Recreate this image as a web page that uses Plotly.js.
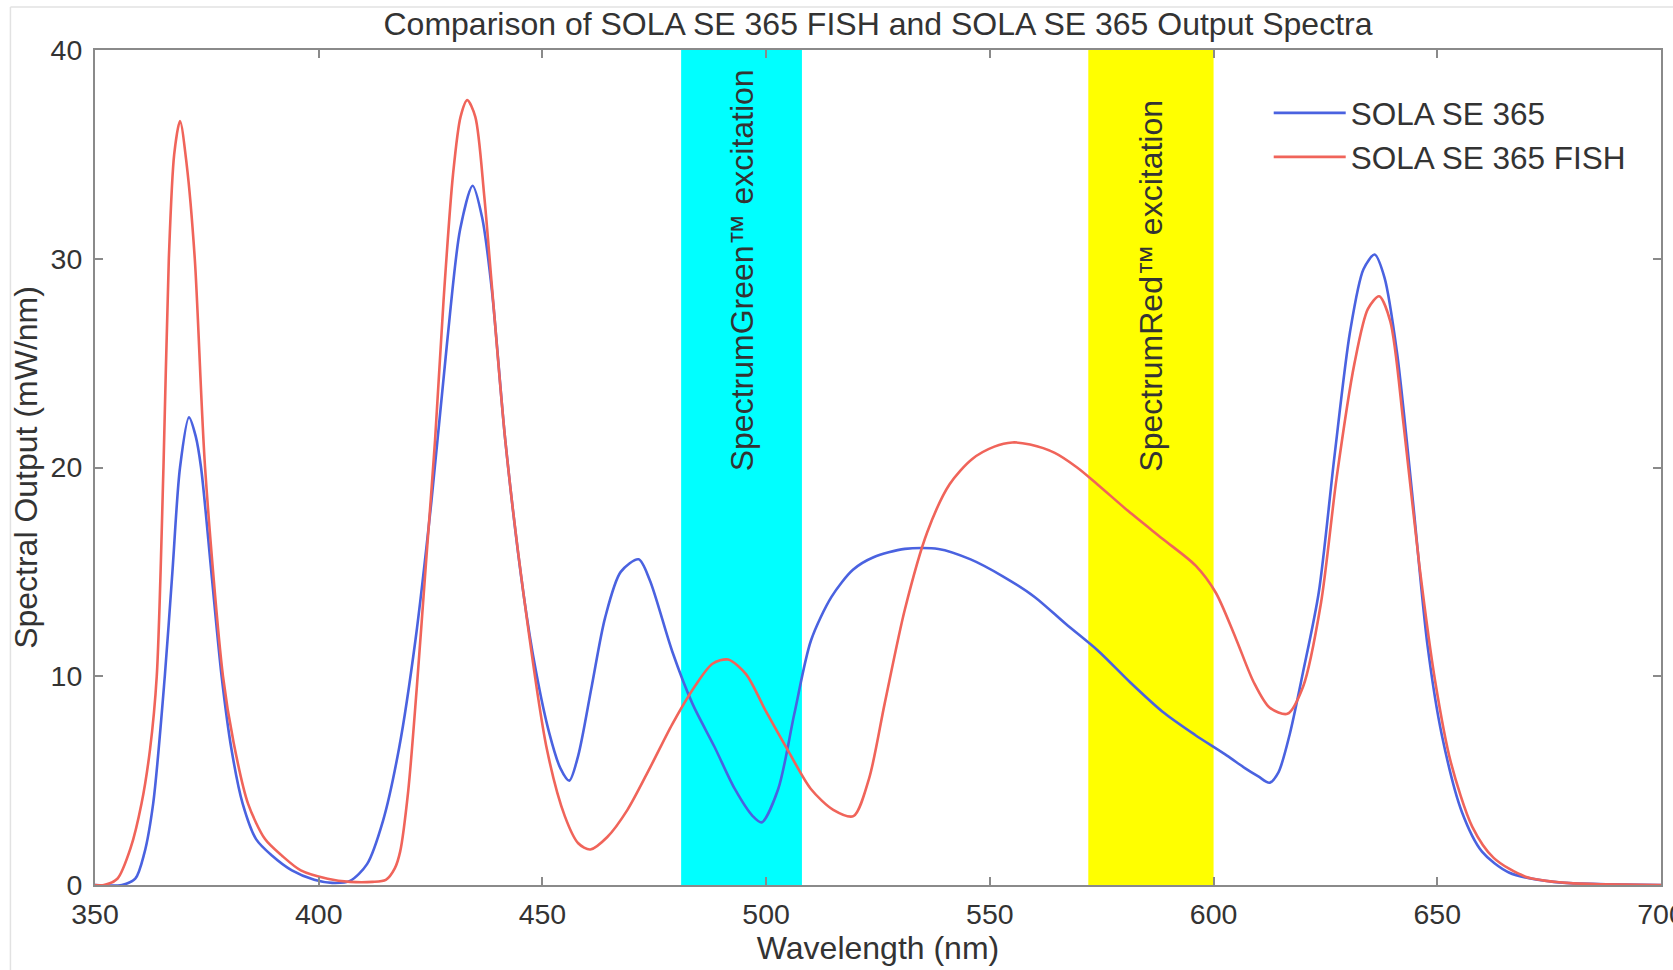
<!DOCTYPE html>
<html>
<head>
<meta charset="utf-8">
<script src="https://cdn.plot.ly/plotly-3.0.1.min.js"></script>
<style>html,body{margin:0;padding:0;background:#fff;}#chart{width:1673px;height:970px;}</style>
</head>
<body>
<div id="chart"></div>
<script>
// SOLA SE 365 (blue)
const seWavelength = [350,356,359,361,363,365.6,367.3,369,371,372.5,373.7,376,378.3,380.5,383,386,389.6,394,399,403,407,410.8,414.4,418,421.6,425.2,428.7,431.6,434.4,436.5,438.7,441.7,445.8,448.5,451.5,454,456,458,461,464,467.5,471.5,474,479,483.5,488.5,493,497,499,502.7,506.3,510,514.6,519.4,524,531,538.5,545.7,552.8,560,567,574.3,581.4,588.6,595.8,603,607,610,612.5,614.5,617,620,623.5,627,630.5,633.5,636,638.2,641,644.5,647.8,651,655.5,660,666,676,700];
const seOutput = [0,0,0.3,1.5,3.9,10,15,20,22.4,21.5,20,15,10,6.5,3.9,2.2,1.4,0.7,0.25,0.1,0.2,1.0,3.1,6.6,11.7,18.4,26,31.4,33.5,32,28.5,21.3,13.9,10.3,7.3,5.6,5.0,6.2,9.5,12.8,15,15.6,14.6,11.2,8.7,6.6,4.6,3.3,3.0,4.6,8.2,11.7,13.8,15.1,15.7,16.1,16.1,15.6,14.8,13.8,12.5,11.2,9.7,8.3,7.2,6.2,5.6,5.2,4.9,5.4,7.2,10.2,14,20.5,26.5,29.5,30.2,29.1,25.5,18.5,11.5,7.2,3.5,1.6,0.6,0.15,0];

// SOLA SE 365 FISH (red)
const fishWavelength = [350,352,355,358,360.4,362.3,363.8,365.3,366.5,367.7,369,370.5,372.3,374.6,378.6,381,384.2,388,391.8,396,402,407,412,415,417,418.2,420,421.9,424,426,427.9,430,431.7,433.2,435,437,438.7,441.7,445.8,451,455,458,460.7,464.5,469,474,479,484,488,491.5,495.5,500,505,510,515,519.5,523,526.5,531,536,541,546,551,555,559,564.5,569.5,574,581,588.5,596,600.5,605,609,612.5,616.5,620,624,627.5,631.5,634.5,637,639.5,642.5,646,649.5,653,657.8,662.6,669.7,679,700];
const fishOutput = [0,0,0.3,1.8,3.9,6.5,10,20,30,35,36.6,34.5,30,20,10,6.8,3.9,2.2,1.4,0.7,0.3,0.15,0.15,0.25,0.8,1.6,4.5,9.4,15.5,21.3,28,34,36.8,37.6,36.8,33,28.7,21.3,13.9,6.5,3.3,2.0,1.7,2.3,3.6,5.6,7.7,9.5,10.6,10.8,10.1,8.3,6.4,4.6,3.6,3.3,5.1,8.7,13.2,16.9,19.2,20.4,21.0,21.2,21.1,20.7,20,19.2,17.9,16.6,15.3,14,11.8,9.7,8.5,8.2,9.5,13.5,19.5,25,27.6,28.2,27,22,15.3,9.8,5.9,2.8,1.3,0.4,0.1,0];

const seriesNames = ['SOLA SE 365', 'SOLA SE 365 FISH'];
const bandStart = [481, 572];
const bandEnd = [508, 600];
const bandLabels = ['SpectrumGreen™ excitation', 'SpectrumRed™ excitation'];
const bandColors = ['#00ffff', '#ffff00'];
const xTicks = [350,400,450,500,550,600,650,700];
const yTicks = [0,10,20,30,40];

const FONT = '"Liberation Sans", Arial, Helvetica, sans-serif';
const TXT = '#333333';

const traces = [
  {x: seWavelength, y: seOutput, name: seriesNames[0], type: 'scatter', mode: 'lines',
   line: {color: '#4a62e0', width: 2.6, shape: 'spline', smoothing: 0.8}},
  {x: fishWavelength, y: fishOutput, name: seriesNames[1], type: 'scatter', mode: 'lines',
   line: {color: '#f0645a', width: 2.6, shape: 'spline', smoothing: 0.8}}
];

const shapes = bandStart.map((s, i) => ({
  type: 'rect', xref: 'x', yref: 'paper', x0: s, x1: bandEnd[i], y0: 0, y1: 1,
  fillcolor: bandColors[i], line: {width: 0}, layer: 'below'
}));
// faint image border (top and left)
shapes.push({type: 'line', xref: 'paper', yref: 'paper', x0: -0.054, x1: 1.01, y0: 1.0515, y1: 1.0515, line: {color: '#e2e2e2', width: 1.5}});
shapes.push({type: 'line', xref: 'paper', yref: 'paper', x0: -0.054, x1: -0.054, y0: -0.12, y1: 1.0515, line: {color: '#e2e2e2', width: 1.5}});

const annotations = bandLabels.map((t, i) => ({
  text: t, x: (bandStart[i] + bandEnd[i]) / 2, y: 19.7, xref: 'x', yref: 'y',
  textangle: -90, xanchor: 'center', yanchor: 'bottom', showarrow: false,
  font: {family: FONT, size: 32, color: TXT}
}));

const axisCommon = {
  showline: true, linecolor: '#8a8a8a', linewidth: 2, mirror: 'ticks',
  ticks: 'inside', ticklen: 8, tickwidth: 1.5, tickcolor: '#8a8a8a',
  showgrid: false, zeroline: false, ticklabeloverflow: 'allow',
  tickfont: {family: FONT, size: 28.5, color: TXT}
};

const layout = {
  width: 1673, height: 970,
  margin: {l: 95, r: 12, t: 50, b: 85},
  paper_bgcolor: '#ffffff', plot_bgcolor: '#ffffff',
  font: {family: FONT, color: TXT},
  title: {text: 'Comparison of SOLA SE 365 FISH and SOLA SE 365 Output Spectra',
          font: {family: FONT, size: 32, color: TXT}, x: 0.5, xanchor: 'center', xref: 'paper', y: 0.975, yanchor: 'middle'},
  xaxis: Object.assign({}, axisCommon, {
    range: [350, 700], tickvals: xTicks, ticktext: xTicks.map(String), ticklabelstandoff: 3,
    title: {text: 'Wavelength (nm)', font: {family: FONT, size: 32, color: TXT}, standoff: 6}
  }),
  yaxis: Object.assign({}, axisCommon, {
    range: [0, 40], tickvals: yTicks, ticktext: yTicks.map(String), ticklabelstandoff: 5,
    title: {text: 'Spectral Output (mW/nm)', font: {family: FONT, size: 32, color: TXT}, standoff: 3}
  }),
  legend: {x: 0.7495, y: 0.957, xanchor: 'left', yanchor: 'top', bgcolor: 'rgba(0,0,0,0)',
           font: {family: FONT, size: 31.5, color: TXT}, itemwidth: 72, tracegroupgap: 0},
  shapes: shapes,
  annotations: annotations,
  showlegend: true
};

Plotly.newPlot('chart', traces, layout, {displayModeBar: false, responsive: false});
</script>
</body>
</html>
